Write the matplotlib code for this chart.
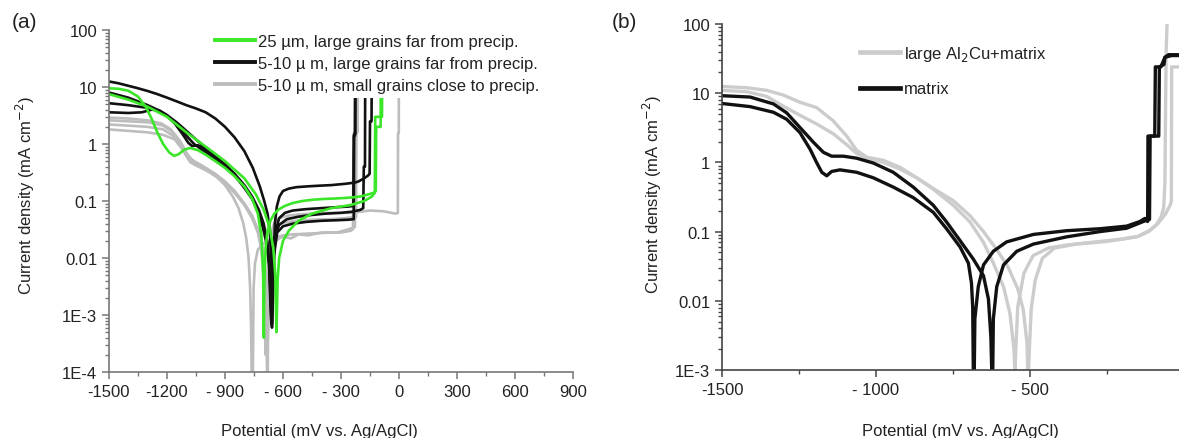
import matplotlib
matplotlib.use("Agg")
import matplotlib.pyplot as plt
from matplotlib.ticker import FixedLocator, LogLocator, NullFormatter

plt.rcParams['font.family'] = ['Liberation Sans', 'DejaVu Sans']

# ---------------- Panel (a) data: potential (mV) / current density (mA cm^-2)
A_GREEN1_E = [-1500, -1450, -1400, -1350, -1310, -1280, -1250, -1220, -1190, -1165, -1140, -1110, -1080,
              -1040, -1000, -950, -900, -850, -800, -760, -730, -712, -703, -699, -696, -690, -680, -665,
              -645, -620, -590, -550, -500, -450, -400, -350, -300, -250, -200, -160, -130, -120, -118,
              -95, -93]
A_GREEN1_I = [9.5, 9.3, 8.6, 6.8, 4.5, 2.8, 1.6, 1.0, 0.72, 0.62, 0.66, 0.8, 0.85,
              0.78, 0.65, 0.5, 0.38, 0.27, 0.18, 0.11, 0.06, 0.025, 0.006, 0.0004, 0.004, 0.015, 0.03, 0.045,
              0.06, 0.072, 0.082, 0.092, 0.1, 0.105, 0.108, 0.11, 0.112, 0.115, 0.12, 0.13, 0.14, 0.15, 2.0,
              2.0, 200]
A_GREEN2_E = [-1500, -1400, -1300, -1200, -1100, -1000, -900, -800, -740, -700, -670, -650, -640, -634,
              -628, -620, -600, -570, -520, -450, -350, -250, -180, -140, -125, -123, -88, -86]
A_GREEN2_I = [7.5, 6.0, 4.5, 3.0, 1.6, 0.9, 0.5, 0.25, 0.13, 0.07, 0.035, 0.015, 0.005, 0.0005,
              0.004, 0.01, 0.02, 0.03, 0.045, 0.06, 0.075, 0.085, 0.1, 0.12, 0.14, 3.0, 3.0, 200]

A_BLACK1_E = [-1500, -1450, -1400, -1350, -1300, -1250, -1200, -1150, -1100, -1050, -1000, -950, -900,
              -850, -800, -756, -720, -697, -680, -668, -662, -657, -653, -648, -642, -632, -618,
              -600, -570, -530, -480, -420, -350, -280, -230, -210, -180, -160, -152, -150, -142, -140]
A_BLACK1_I = [12.5, 11.6, 10.5, 9.5, 8.5, 7.5, 6.5, 5.6, 4.8, 4.2, 3.6, 2.8, 2.0,
              1.3, 0.75, 0.38, 0.18, 0.1, 0.06, 0.03, 0.01, 0.0007, 0.003, 0.012, 0.04, 0.08, 0.12,
              0.15, 0.165, 0.175, 0.18, 0.185, 0.19, 0.2, 0.21, 0.22, 0.25, 0.28, 0.3, 2.5, 2.5, 200]
A_BLACK2_E = [-1500, -1400, -1300, -1250, -1200, -1150, -1100, -1050, -1000, -950, -900, -850, -800,
              -760, -730, -705, -685, -672, -665, -660, -655, -648, -638, -620, -590, -550, -480, -400,
              -320, -260, -236, -234, -228, -226]
A_BLACK2_I = [8.0, 6.5, 4.8, 4.0, 3.2, 2.4, 1.7, 1.2, 0.85, 0.6, 0.42, 0.28, 0.17,
              0.11, 0.07, 0.042, 0.022, 0.008, 0.0015, 0.0007, 0.002, 0.01, 0.03, 0.05, 0.062, 0.068, 0.072,
              0.075, 0.078, 0.08, 0.082, 1.4, 1.4, 200]
A_BLACK3_E = [-1500, -1400, -1300, -1250, -1200, -1160, -1120, -1090, -1070, -1040, -1000, -950, -900,
              -850, -800, -760, -725, -700, -680, -668, -662, -657, -652, -645, -630, -600, -550, -480,
              -400, -320, -260, -234, -232, -226, -224]
A_BLACK3_I = [5.2, 4.8, 4.3, 3.9, 3.1, 2.3, 1.5, 1.05, 0.92, 0.95, 0.8, 0.6, 0.44,
              0.3, 0.19, 0.12, 0.07, 0.04, 0.018, 0.006, 0.0015, 0.0006, 0.002, 0.012, 0.028, 0.036, 0.04,
              0.043, 0.045, 0.046, 0.047, 0.048, 1.5, 1.5, 200]
A_BLACK4_E = [-1500, -1400, -1330, -1280, -1240, -1200, -1150, -1100, -1060, -1020, -980, -940, -900,
              -850, -800, -760, -730, -705, -685, -672, -664, -660, -656, -650, -640, -620, -580, -520,
              -450, -380, -300, -240, -200, -185, -182, -176, -174]
A_BLACK4_I = [3.6, 3.5, 3.6, 4.0, 3.9, 3.2, 2.2, 1.4, 1.0, 0.8, 0.65, 0.52, 0.4,
              0.28, 0.18, 0.11, 0.065, 0.035, 0.018, 0.008, 0.002, 0.0007, 0.002, 0.01, 0.025, 0.038, 0.048,
              0.053, 0.057, 0.06, 0.062, 0.065, 0.07, 0.075, 0.4, 0.4, 200]

A_GREY1_E = [-1500, -1400, -1300, -1230, -1180, -1140, -1110, -1090, -1060, -1020, -980, -940, -900,
             -860, -830, -805, -790, -778, -770, -765, -762, -756, -752, -745, -730, -700, -660, -600,
             -550, -450, -350, -300, -250, -238, -236, -232, -228, -226]
A_GREY1_I = [2.9, 2.8, 2.6, 2.3, 1.8, 1.2, 0.8, 0.6, 0.5, 0.42, 0.34, 0.26, 0.19,
             0.12, 0.075, 0.04, 0.022, 0.01, 0.003, 0.0006, 0.00008, 0.00008, 0.003, 0.008, 0.014, 0.018,
             0.022, 0.025, 0.026, 0.027, 0.028, 0.028, 0.03, 0.032, 0.5, 1.6, 1.6, 200]
A_GREY2_E = [-1500, -1400, -1300, -1220, -1170, -1130, -1100, -1080, -1050, -1000, -950, -900, -850,
             -800, -760, -730, -710, -698, -690, -685, -682, -679, -676, -670, -660, -645, -620, -580,
             -520, -450, -350, -250, -150, -80, -40, -15, -6, -5, -1, 0]
A_GREY2_I = [2.2, 2.1, 2.0, 1.8, 1.4, 0.95, 0.62, 0.48, 0.42, 0.35, 0.28, 0.21, 0.14,
             0.085, 0.05, 0.028, 0.014, 0.005, 0.001, 0.0003, 0.00008, 0.00008, 0.002, 0.012, 0.028, 0.042,
             0.05, 0.055, 0.058, 0.06, 0.062, 0.062, 0.068, 0.066, 0.062, 0.06, 0.062, 1.55, 1.55, 200]
A_GREY3_E = [-1500, -1400, -1300, -1220, -1170, -1130, -1100, -1070, -1040, -1000, -950, -900, -850,
             -800, -760, -730, -712, -700, -694, -690, -686, -680, -670, -655, -630, -590, -530, -450,
             -350, -280, -235, -222, -220, -214, -212]
A_GREY3_I = [2.6, 2.5, 2.4, 2.1, 1.6, 1.1, 0.7, 0.52, 0.45, 0.38, 0.3, 0.22, 0.15,
             0.09, 0.055, 0.03, 0.014, 0.004, 0.0008, 0.0002, 0.0008, 0.005, 0.018, 0.03, 0.038, 0.042,
             0.045, 0.047, 0.048, 0.05, 0.052, 0.052, 1.6, 1.6, 200]
A_GREY4_E = [-1500, -1400, -1300, -1220, -1160, -1120, -1090, -1060, -1020, -980, -940, -900, -850,
             -800, -760, -730, -705, -690, -684, -680, -676, -670, -660, -640, -600, -560, -520, -470,
             -400, -320, -260, -228, -226, -224]
A_GREY4_I = [1.8, 1.7, 1.6, 1.45, 1.2, 0.8, 0.55, 0.45, 0.38, 0.32, 0.26, 0.2, 0.14,
             0.09, 0.055, 0.032, 0.015, 0.005, 0.0009, 0.0003, 0.0009, 0.006, 0.014, 0.02, 0.024, 0.022,
             0.026, 0.025, 0.028, 0.028, 0.032, 0.035, 1.6, 200]

A_XTICKS = [-1500, -1200, -900, -600, -300, 0, 300, 600, 900]
A_XTICKLABELS = ['-1500', '-1200', '- 900', '- 600', '- 300', '0', '300', '600', '900']
A_YTICKS = [1e-4, 1e-3, 1e-2, 1e-1, 1, 10, 100]
A_YTICKLABELS = ['1E-4', '1E-3', '0.01', '0.1', '1', '10', '100']
A_LEGEND = ['25 \u00b5m, large grains far from precip.',
            '5-10 \u00b5 m, large grains far from precip.',
            '5-10 \u00b5 m, small grains close to precip.']

# ---------------- Panel (b) data
B_BLACK1_E = [-1500, -1409, -1333, -1290, -1247, -1214, -1193, -1176, -1160, -1144, -1117, -1063, -1009,
              -944, -879, -814, -771, -727, -700, -690, -686, -684, -681, -679, -668, -651, -619, -576,
              -489, -381, -273, -186, -143, -127, -120, -118, -117, -115, -82, -80, -65, -62, -40, 0]
B_BLACK1_I = [7.1, 6.4, 5.3, 4.2, 2.7, 1.55, 1.0, 0.72, 0.64, 0.74, 0.78, 0.72, 0.6,
              0.44, 0.31, 0.19, 0.11, 0.06, 0.035, 0.018, 0.008, 0.0009, 0.0009, 0.0055, 0.016, 0.033,
              0.052, 0.071, 0.091, 0.103, 0.11, 0.12, 0.14, 0.155, 0.15, 0.14, 2.4, 2.4, 2.4, 24, 26, 33,
              35, 35]
B_BLACK2_E = [-1500, -1409, -1333, -1290, -1247, -1203, -1171, -1144, -1106, -1063, -1009, -944, -879,
              -814, -771, -727, -684, -651, -635, -627, -624, -621, -619, -608, -586, -543, -489, -381,
              -273, -186, -132, -112, -110, -108, -95, -93, -75, -62, -50, 0]
B_BLACK2_I = [9.2, 8.8, 7.0, 5.2, 3.2, 1.95, 1.4, 1.23, 1.23, 1.15, 0.98, 0.72, 0.44,
              0.24, 0.138, 0.074, 0.04, 0.023, 0.0106, 0.003, 0.0009, 0.0009, 0.0055, 0.016, 0.033, 0.052,
              0.066, 0.084, 0.1, 0.112, 0.14, 0.15, 2.4, 2.4, 2.4, 24, 24, 33, 36, 36]
B_GREY1_E = [-1500, -1420, -1355, -1301, -1247, -1193, -1139, -1095, -1063, -1030, -976, -922, -868,
             -814, -749, -695, -651, -619, -586, -565, -552, -549, -546, -540, -520, -490, -440, -380,
             -300, -200, -150, -115, -90, -75, -66, -62, -60, -58, -55, -52]
B_GREY1_I = [12.5, 12.0, 11.0, 9.4, 7.4, 6.2, 4.0, 2.4, 1.5, 1.19, 1.07, 0.85, 0.6,
             0.41, 0.24, 0.138, 0.07, 0.035, 0.016, 0.0065, 0.002, 0.0009, 0.002, 0.008, 0.025, 0.045, 0.058,
             0.064, 0.07, 0.078, 0.085, 0.1, 0.125, 0.16, 0.22, 0.5, 5.0, 40, 100, 160]
B_GREY2_E = [-1500, -1420, -1355, -1301, -1247, -1193, -1139, -1095, -1063, -1030, -976, -922, -868,
             -814, -749, -695, -651, -608, -570, -540, -522, -510, -507, -505, -502, -496, -483, -460,
             -420, -350, -250, -150, -110, -85, -60, -45, -41, -40, 0]
B_GREY2_I = [11.0, 10.5, 9.0, 6.5, 4.8, 3.6, 2.6, 1.8, 1.35, 1.15, 1.0, 0.8, 0.6,
             0.42, 0.28, 0.17, 0.1, 0.055, 0.03, 0.015, 0.0075, 0.0025, 0.0009, 0.0009, 0.002, 0.0076,
             0.02, 0.041, 0.058, 0.066, 0.072, 0.085, 0.105, 0.13, 0.18, 0.24, 0.28, 24, 24]

B_XTICKS = [-1500, -1000, -500, 0]
B_XTICKLABELS = ['-1500', '- 1000', '- 500', '0']
B_YTICKS = [1e-3, 1e-2, 1e-1, 1, 10, 100]
B_YTICKLABELS = ['1E-3', '0.01', '0.1', '1', '10', '100']
B_LEGEND = ['large Al$_2$Cu+matrix', 'matrix']

GREEN = '#3be628'
BLACK = '#111111'
GREY_A = '#bdbdbd'
GREY_B = '#cccccc'
FS = 12

W, H = 1179, 439
fig = plt.figure(figsize=(W / 100, H / 100), dpi=100)


def style_axis(ax, spine_color):
    for s in ['top', 'right']:
        ax.spines[s].set_visible(False)
    for s in ['left', 'bottom']:
        ax.spines[s].set_color(spine_color)
        ax.spines[s].set_linewidth(1.2)
    ax.tick_params(which='both', direction='out', colors=spine_color, labelcolor='#222222',
                   labelsize=FS)
    ax.tick_params(which='major', length=5, width=1.1)
    ax.tick_params(which='minor', length=3, width=1.0)
    ax.yaxis.set_minor_locator(LogLocator(base=10, subs=[2, 3, 4, 5, 6, 7, 8, 9], numticks=20))
    ax.yaxis.set_minor_formatter(NullFormatter())


# ---------------- Panel (a)
axa = fig.add_axes([109 / W, 1 - 373 / H, 464 / W, 342 / H])
axa.set_yscale('log')
for e, i in [(A_GREY1_E, A_GREY1_I), (A_GREY3_E, A_GREY3_I), (A_GREY4_E, A_GREY4_I)]:
    axa.plot(e, i, color=GREY_A, lw=1.9)
gl, = axa.plot(A_GREY2_E, A_GREY2_I, color=GREY_A, lw=1.9)
for e, i in [(A_BLACK2_E, A_BLACK2_I), (A_BLACK3_E, A_BLACK3_I), (A_BLACK4_E, A_BLACK4_I)]:
    axa.plot(e, i, color=BLACK, lw=1.9)
bl, = axa.plot(A_BLACK1_E, A_BLACK1_I, color=BLACK, lw=1.9)
axa.plot(A_GREEN2_E, A_GREEN2_I, color=GREEN, lw=1.9)
grl, = axa.plot(A_GREEN1_E, A_GREEN1_I, color=GREEN, lw=1.9)
axa.set_xlim(-1500, 900)
axa.set_ylim(1e-4, 100)
style_axis(axa, '#777777')
axa.set_xticks(A_XTICKS)
axa.set_xticklabels(A_XTICKLABELS)
axa.xaxis.set_minor_locator(FixedLocator(list(range(-1350, 900, 300))))
axa.set_yticks(A_YTICKS)
axa.set_yticklabels(A_YTICKLABELS)
leg = axa.legend([grl, bl, gl], A_LEGEND, loc='upper left',
                 bbox_to_anchor=(210 / W, 1 - 30 / H), bbox_transform=fig.transFigure,
                 frameon=True, fontsize=FS, handlelength=2.4, handletextpad=0.2,
                 labelspacing=0.42, borderpad=0.3, borderaxespad=0.0, fancybox=False)
leg.get_frame().set_facecolor('white')
leg.get_frame().set_edgecolor('none')
leg.get_frame().set_alpha(1)
for ln in leg.get_lines():
    ln.set_linewidth(2.8)
for t in leg.get_texts():
    t.set_color('#222222')

# ---------------- Panel (b)
axb = fig.add_axes([722 / W, 1 - 371 / H, 462 / W, 346 / H])
axb.set_yscale('log')
g1, = axb.plot(B_GREY1_E, B_GREY1_I, color=GREY_B, lw=2.4)
axb.plot(B_GREY2_E, B_GREY2_I, color=GREY_B, lw=2.4)
k1, = axb.plot(B_BLACK1_E, B_BLACK1_I, color=BLACK, lw=2.4)
axb.plot(B_BLACK2_E, B_BLACK2_I, color=BLACK, lw=2.4)
axb.set_xlim(-1500, 0)
axb.set_ylim(1e-3, 100)
style_axis(axb, '#444444')
axb.set_xticks(B_XTICKS)
axb.set_xticklabels(B_XTICKLABELS)
axb.xaxis.set_minor_locator(FixedLocator([-1250, -750, -250]))
axb.set_yticks(B_YTICKS)
axb.set_yticklabels(B_YTICKLABELS)
legb = axb.legend([g1, k1], B_LEGEND, loc='upper left',
                  bbox_to_anchor=(860 / W, 1 - 45 / H), bbox_transform=fig.transFigure,
                  frameon=False, fontsize=FS, handlelength=2.4, handletextpad=0.25,
                  labelspacing=1.1, borderpad=0.0, borderaxespad=0.0)
for ln in legb.get_lines():
    ln.set_linewidth(3.4)
for t in legb.get_texts():
    t.set_color('#222222')

# ---------------- Labels
ylab = 'Current density (mA cm$^{-2}$)'
fig.text(319 / W, 1 - 432 / H, 'Potential (mV vs. Ag/AgCl)', ha='center', va='center',
         fontsize=FS, color='#222222')
fig.text(960 / W, 1 - 432 / H, 'Potential (mV vs. Ag/AgCl)', ha='center', va='center',
         fontsize=FS, color='#222222')
fig.text(25 / W, 1 - 196 / H, ylab, rotation=90, ha='center', va='center', fontsize=FS,
         color='#222222')
fig.text(652 / W, 1 - 195 / H, ylab, rotation=90, ha='center', va='center', fontsize=FS,
         color='#222222')
fig.text(24 / W, 1 - 22 / H, '(a)', ha='center', va='center', fontsize=15, color='#222222')
fig.text(624 / W, 1 - 22 / H, '(b)', ha='center', va='center', fontsize=15, color='#222222')

fig.savefig('out.png', dpi=100)
